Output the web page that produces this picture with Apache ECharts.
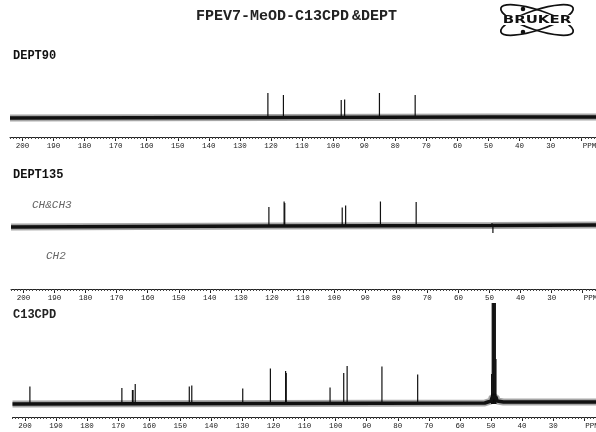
<!DOCTYPE html>
<html>
<head>
<meta charset="utf-8">
<script src="https://cdn.jsdelivr.net/npm/echarts@6/dist/echarts.min.js"></script>
<style>
html, body { margin: 0; padding: 0; background: #fff; }
#chart { width: 596px; height: 432px; }
</style>
</head>
<body>
<div id="chart"></div>
<script>
// ppm window shown on all three traces
var ppmLeft = 204;
var ppmRight = 15.4;
var majorTicks = [200, 190, 180, 170, 160, 150, 140, 130, 120, 110, 100, 90, 80, 70, 60, 50, 40, 30, 20];
var tickLabels = [200, 190, 180, 170, 160, 150, 140, 130, 120, 110, 100, 90, 80, 70, 60, 50, 40, 30, 17.5];

// DEPT90 (CH only)
var dept90Ppm = [121.0, 116.0, 97.4, 96.3, 85.1, 73.6];
var dept90Int = [25, 23, 18, 18.5, 25, 23];
var dept90BasePpm = [204, 120, 49, 15.4];
var dept90BaseVal = [0, 0.5, 1, 1];

// DEPT135 (CH & CH3 up, CH2 down)
var dept135Ppm = [121.0, 116.1, 115.9, 97.4, 96.3, 85.1, 73.6, 49.2, 48.9];
var dept135Int = [20, 25.5, 24, 19.5, 21.5, 25.5, 25, 4, -6];
var dept135BasePpm = [204, 120, 49, 15.4];
var dept135BaseVal = [0, 1, 1.5, 2];

// C13CPD (solvent CD3OD multiplet around 49 ppm runs off the top)
var c13Ppm = [198.4, 168.8, 165.4, 165.2, 164.5, 147.1, 146.3, 129.9, 121.0, 116.1, 115.9, 101.8, 97.4, 96.3, 85.1, 73.6,
              49.8, 49.6, 49.4, 49.2, 49.0, 48.8, 48.6, 48.4];
var c13Int = [17.5, 16, 14, 14, 20, 17.5, 18.5, 15.5, 35.5, 33, 31, 16.5, 31, 38, 37.5, 29.5,
              30, 101, 101, 101, 101, 101, 101, 45];
var c13BasePpm = [204, 120, 52, 50, 49.6, 48.4, 48, 46, 15.4];
var c13BaseVal = [0, 0.5, 1, 3, 7, 7, 3, 2, 2];

var chart = echarts.init(document.getElementById('chart'));

function zip(a, b) {
	var out = [];
	for (var i = 0; i < a.length; i++) out.push([a[i], b[i]]);
	return out;
}

function minorTickValues() {
	var v = [];
	for (var p = 204; p >= 16; p--) v.push(p);
	return v;
}

function stick(params, api) {
	var p0 = api.coord([api.value(0), 0]);
	var p1 = api.coord([api.value(0), api.value(1)]);
	return {
		type: 'line',
		shape: { x1: p0[0], y1: p0[1], x2: p1[0], y2: p1[1] },
		style: { stroke: '#111', lineWidth: 1.2 }
	};
}

var grids = [
	{ left: 10, right: 0, top: 70, bottom: 295, containLabel: false, outerBoundsMode: 'none' },
	{ left: 11, right: -1, top: 190, bottom: 143, containLabel: false, outerBoundsMode: 'none' },
	{ left: 12.5, right: -2.5, top: 300, bottom: 15, containLabel: false, outerBoundsMode: 'none' }
];
var yRanges = [[-19, 48], [-62, 37], [-13, 104]];

var xAxes = [], yAxes = [];
for (var g = 0; g < 3; g++) {
	xAxes.push({
		type: 'value', gridIndex: g, position: 'bottom', inverse: true,
		min: ppmRight, max: ppmLeft,
		axisLine: { onZero: false, lineStyle: { color: '#222', width: 1 } },
		axisTick: { customValues: majorTicks, length: 4, lineStyle: { color: '#222' } },
		axisLabel: {
			customValues: tickLabels, margin: 5, hideOverlap: false,
			fontFamily: 'Liberation Mono', fontSize: 7.5, color: '#222',
			formatter: function (v) { return v < 20 ? 'PPM' : v; }
		},
		splitLine: { show: false }
	});
	yAxes.push({ type: 'value', gridIndex: g, show: false, min: yRanges[g][0], max: yRanges[g][1] });
}
for (var g2 = 0; g2 < 3; g2++) {
	xAxes.push({
		type: 'value', gridIndex: g2, position: 'bottom', inverse: true,
		min: ppmRight, max: ppmLeft,
		axisLine: { show: false, onZero: false },
		axisTick: { customValues: minorTickValues(), length: 2, lineStyle: { color: '#444' } },
		axisLabel: { show: false },
		splitLine: { show: false }
	});
}

var bases = [zip(dept90BasePpm, dept90BaseVal), zip(dept135BasePpm, dept135BaseVal), zip(c13BasePpm, c13BaseVal)];
var sticks = [zip(dept90Ppm, dept90Int), zip(dept135Ppm, dept135Int), zip(c13Ppm, c13Int)];

var series = [];
for (var s = 0; s < 3; s++) {
	series.push({
		type: 'line', xAxisIndex: s, yAxisIndex: s, data: bases[s], showSymbol: false, silent: true,
		lineStyle: { color: 'rgba(0,0,0,0.35)', width: 7 }
	});
	series.push({
		type: 'line', xAxisIndex: s, yAxisIndex: s, data: bases[s], showSymbol: false, silent: true,
		lineStyle: { color: '#111', width: 3.5 }
	});
	series.push({
		type: 'custom', xAxisIndex: s, yAxisIndex: s, data: sticks[s], renderItem: stick, silent: true, clip: false
	});
}

var mono = 'Liberation Mono';
chart.setOption({
	animation: false,
	backgroundColor: '#fff',
	grid: grids,
	xAxis: xAxes,
	yAxis: yAxes,
	series: series,
	graphic: [
		{ type: 'text', left: 196, top: 9, style: { text: 'FPEV7-MeOD-C13CPD\u2009&DEPT', font: 'bold 15px ' + mono, fill: '#222' } },
		{ type: 'text', left: 13, top: 50, style: { text: 'DEPT90', font: 'bold 12px ' + mono, fill: '#111' } },
		{ type: 'text', left: 13, top: 169, style: { text: 'DEPT135', font: 'bold 12px ' + mono, fill: '#111' } },
		{ type: 'text', left: 32, top: 200, style: { text: 'CH&CH3', font: 'italic 11px ' + mono, fill: '#666' } },
		{ type: 'text', left: 46, top: 251, style: { text: 'CH2', font: 'italic 11px ' + mono, fill: '#666' } },
		{ type: 'text', left: 13, top: 309, style: { text: 'C13CPD', font: 'bold 12px ' + mono, fill: '#222' } },
		{
			type: 'group', x: 537, y: 20,
			children: [
				{ type: 'ellipse', rotation: 0.32, shape: { cx: 0, cy: 0, rx: 38, ry: 10 }, style: { fill: 'none', stroke: '#111', lineWidth: 1.8 } },
				{ type: 'ellipse', rotation: -0.32, shape: { cx: 0, cy: 0, rx: 38, ry: 10 }, style: { fill: 'none', stroke: '#111', lineWidth: 1.8 } },
				{ type: 'rect', shape: { x: -44, y: -5, width: 88, height: 10 }, style: { fill: '#fff' } },
				{ type: 'text', x: 0, y: 0, scaleX: 1.5, style: { text: 'BRUKER', font: 'bold 10px "DejaVu Sans"', fill: '#111', align: 'center', verticalAlign: 'middle' } },
				{ type: 'circle', shape: { cx: -14, cy: -11, r: 2.3 }, style: { fill: '#111' } },
				{ type: 'circle', shape: { cx: -14, cy: 12, r: 2.3 }, style: { fill: '#111' } }
			]
		}
	]
});
</script>
</body>
</html>
